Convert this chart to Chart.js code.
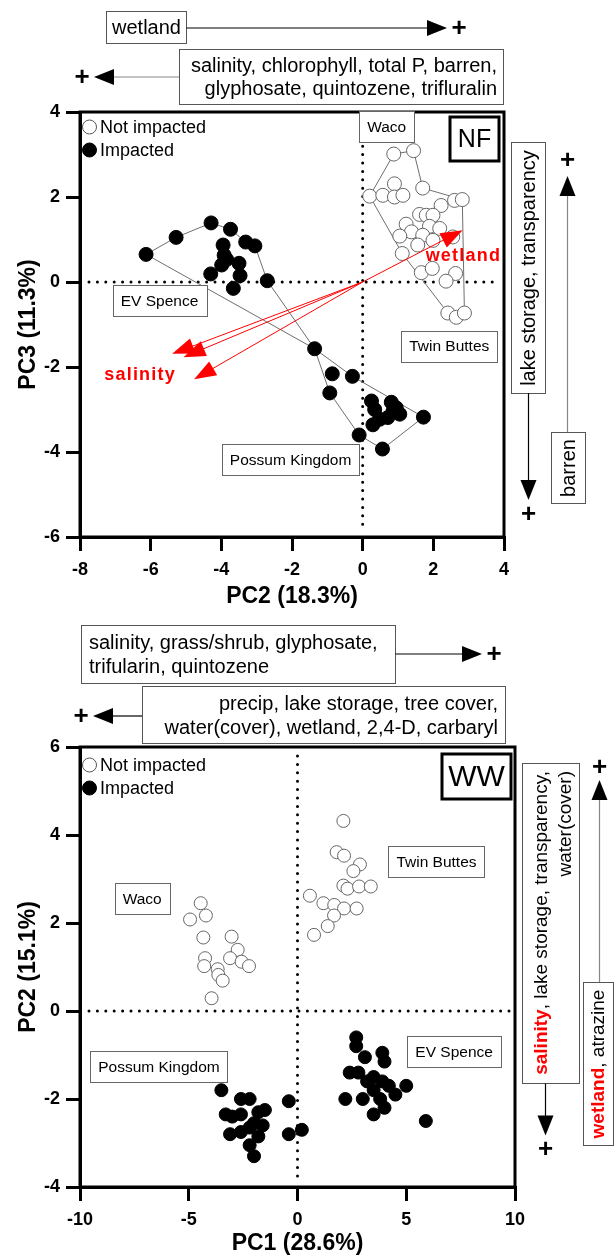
<!DOCTYPE html>
<html lang="en">
<head>
<meta charset="UTF-8">
<title>PCA - NF / WW</title>
<style>
  body { margin: 0; background: #fff; }
  .wrap { position: relative; width: 615px; height: 1258px; }
  canvas { position: absolute; left: 0; }
  #nf { top: 0; }
  #ww { top: 615px; }
</style>
</head>
<body>
<div class="wrap">
  <canvas id="nf" width="615" height="615"></canvas>
  <canvas id="ww" width="615" height="643"></canvas>
</div>
<script src="https://cdn.jsdelivr.net/npm/chart.js"></script>
<script>
// ---- NF panel: PC2 (x) vs PC3 (y)
const nfNotImpacted = [
  [0.88,3.01],[1.44,3.09],[0.20,2.02],[0.57,2.04],[0.90,2.31],[0.90,2.00],[1.14,2.04],[1.70,2.21],
  [2.60,1.92],[2.82,1.94],[2.22,1.80],[1.61,1.59],[1.80,1.57],[1.99,1.57],[1.23,1.36],[1.89,1.31],
  [1.38,1.18],[1.70,1.10],[2.18,1.26],[1.05,1.08],[1.56,0.87],[1.99,0.98],[2.55,1.06],[1.12,0.67],
  [1.66,0.22],[1.97,0.32],[2.63,0.20],[2.36,0.02],[2.41,-0.73],[2.65,-0.83],[2.88,-0.73]
];
const nfImpacted = [
  [-6.13,0.65],[-5.28,1.05],[-4.29,1.39],[-3.74,1.24],[-3.31,0.94],[-3.05,0.85],[-3.95,0.87],[-3.92,0.63],
  [-3.85,0.53],[-3.99,0.40],[-3.50,0.44],[-4.30,0.19],[-3.47,0.15],[-2.70,0.03],[-3.66,-0.15],[-1.36,-1.57],
  [-0.86,-2.16],[-0.29,-2.22],[-0.93,-2.61],[-0.10,-3.60],[0.56,-3.93],[1.72,-3.18],[0.25,-2.80],[0.34,-3.00],
  [0.81,-2.83],[0.95,-2.96],[1.05,-3.11],[0.71,-3.19],[0.48,-3.23],[0.29,-3.36],[0.86,-3.04]
];
// hull outlines, as indexes into the point lists
const nfHullNotImpacted = [0,1,7,9,30,29,28,23,2,0];
const nfHullEVSpence = [0,1,2,3,4,5,13,15,0];
const nfHullPossum = [15,17,21,20,19,18,15];
// loading vectors (wetland, salinity x3)
const nfLoadX = [2.83,-5.39,-5.07,-4.77];
const nfLoadY = [1.22,-1.69,-1.77,-2.29];

// ---- WW panel: PC1 (x) vs PC2 (y)
const wwNotImpacted = [
  [2.11,4.32],[1.80,3.61],[2.14,3.53],[2.87,3.33],[2.57,3.18],[2.11,2.85],[2.30,2.78],[2.83,2.83],[3.37,2.83],
  [0.57,2.62],[1.19,2.45],[1.69,2.41],[2.14,2.33],[2.72,2.33],[1.68,2.17],[1.39,1.93],[0.76,1.73],
  [-4.45,2.45],[-4.94,2.08],[-4.21,2.17],[-4.33,1.67],[-3.03,1.69],[-2.75,1.39],[-4.25,1.20],[-3.10,1.20],
  [-2.57,1.12],[-2.23,1.02],[-4.29,1.02],[-3.67,0.95],[-3.64,0.82],[-3.44,0.69],[-3.95,0.29]
];
const wwImpacted = [
  [2.7,-0.6],[2.7,-0.8],[3.1,-1.05],[3.9,-0.95],[4.0,-1.15],[2.4,-1.4],[2.8,-1.4],[3.5,-1.5],[3.2,-1.6],
  [3.9,-1.6],[3.5,-1.8],[4.2,-1.7],[4.5,-1.9],[2.2,-2.0],[3.0,-2.0],[3.8,-2.0],[4.0,-2.2],[3.5,-2.35],
  [5.0,-1.7],[5.9,-2.5],
  [-3.5,-1.8],[-3.3,-2.35],[-3.0,-2.4],[-2.6,-2.0],[-2.2,-2.0],[-2.6,-2.35],[-1.8,-2.3],[-1.5,-2.25],
  [-0.4,-2.05],[-3.1,-2.8],[-2.6,-2.75],[-2.2,-2.65],[-2.0,-2.55],[-1.6,-2.6],[-1.8,-2.85],[-2.2,-3.05],
  [-2.0,-3.3],[-0.4,-2.8],[0.2,-2.7]
];

const FONT = '"Liberation Sans", Arial, Helvetica, sans-serif';

const xy = pts => pts.map(p => ({x: p[0], y: p[1]}));
const hull = (pts, idx) => idx.map(i => ({x: pts[i][0], y: pts[i][1]}));

// ---- drawing helpers
function rectBox(ctx, x, y, w, h, lw, color) {
  ctx.save();
  ctx.fillStyle = '#fff';
  ctx.strokeStyle = color || '#555';
  ctx.lineWidth = lw || 1;
  ctx.fillRect(x, y, w, h);
  ctx.strokeRect(x, y, w, h);
  ctx.restore();
}
function seg(ctx, x1, y1, x2, y2, color, lw) {
  ctx.save();
  ctx.strokeStyle = color; ctx.lineWidth = lw || 1.2;
  ctx.beginPath(); ctx.moveTo(x1, y1); ctx.lineTo(x2, y2); ctx.stroke();
  ctx.restore();
}
function head(ctx, x, y, ang, color, len, half) {
  ctx.save();
  ctx.fillStyle = color || '#000';
  ctx.translate(x, y); ctx.rotate(ang);
  ctx.beginPath();
  ctx.moveTo(0, 0); ctx.lineTo(-(len || 20), -(half || 8)); ctx.lineTo(-(len || 20), half || 8);
  ctx.closePath(); ctx.fill();
  ctx.restore();
}
function plus(ctx, x, y) {
  ctx.save();
  ctx.fillStyle = '#000';
  ctx.font = 'bold 26px ' + FONT;
  ctx.textAlign = 'center'; ctx.textBaseline = 'middle';
  ctx.fillText('+', x, y);
  ctx.restore();
}
// parts: [{t, b, c}] drawn in a row; align left/right/center around x
function runs(ctx, parts, x, y, size, align) {
  const fonts = parts.map(p => (p.b ? 'bold ' : '') + size + 'px ' + FONT);
  let w = 0;
  const ws = parts.map((p, i) => { ctx.font = fonts[i]; const m = ctx.measureText(p.t).width; w += m; return m; });
  let cx = align === 'right' ? x - w : align === 'center' ? x - w / 2 : x;
  ctx.save();
  ctx.textAlign = 'left'; ctx.textBaseline = 'middle';
  parts.forEach((p, i) => {
    ctx.font = fonts[i]; ctx.fillStyle = p.c || '#000';
    ctx.fillText(p.t, cx, y); cx += ws[i];
  });
  ctx.restore();
  return w;
}
function measureRuns(ctx, parts, size) {
  let w = 0;
  parts.forEach(p => { ctx.font = (p.b ? 'bold ' : '') + size + 'px ' + FONT; w += ctx.measureText(p.t).width; });
  return w;
}
// rotated text (reads bottom to top)
function vRuns(ctx, parts, x, y, size, align) {
  ctx.save();
  ctx.translate(x, y); ctx.rotate(-Math.PI / 2);
  runs(ctx, parts, 0, 0, size, align);
  ctx.restore();
}

// ---- plugin: zero lines, loadings, frame, legend, labels, outside notes
function decor(spec) {
  return {
    id: 'decor',
    beforeDatasetsDraw(chart) {
      const {ctx, chartArea: a, scales: {x, y}} = chart;
      const x0 = x.getPixelForValue(0), y0 = y.getPixelForValue(0);
      ctx.save();
      ctx.strokeStyle = '#000'; ctx.lineWidth = 3; ctx.lineCap = 'round';
      ctx.setLineDash([0, 8.4]);
      ctx.beginPath();
      ctx.moveTo(x0, a.top + 9); ctx.lineTo(x0, a.bottom - 6);
      ctx.moveTo(a.left + 9, y0); ctx.lineTo(a.right - 6, y0);
      ctx.stroke();
      ctx.restore();
    },
    afterDatasetsDraw(chart) {
      if (!spec.loadX) return;
      const {ctx, scales: {x, y}} = chart;
      const ox = x.getPixelForValue(0), oy = y.getPixelForValue(0);
      spec.loadX.forEach((lx, i) => {
        const tx = x.getPixelForValue(lx), ty = y.getPixelForValue(spec.loadY[i]);
        const ang = Math.atan2(ty - oy, tx - ox);
        const bx = tx - Math.cos(ang) * 18, by = ty - Math.sin(ang) * 18;
        seg(ctx, ox, oy, bx, by, '#f00', 1);
        head(ctx, tx, ty, ang, '#f00', 22, 8);
      });
      ctx.save();
      ctx.fillStyle = '#f00';
      ctx.font = 'bold 18px ' + FONT;
      ctx.letterSpacing = '1.2px';
      ctx.textAlign = 'center'; ctx.textBaseline = 'middle';
      spec.loadLabels.forEach(l => ctx.fillText(l.t, x.getPixelForValue(l.x), y.getPixelForValue(l.y)));
      ctx.restore();
    },
    afterDraw(chart) {
      const {ctx, chartArea: a, scales: {x, y}} = chart;
      // frame
      ctx.save();
      ctx.strokeStyle = '#000'; ctx.lineWidth = 3;
      ctx.strokeRect(a.left, a.top, a.width, a.height);
      ctx.restore();
      // legend
      const lg = spec.legend;
      [['Not impacted', '#fff', lg.dy1], ['Impacted', '#000', lg.dy2]].forEach(([t, fill, dy]) => {
        ctx.save();
        ctx.beginPath();
        ctx.arc(a.left + 9.5, a.top + dy, 7, 0, Math.PI * 2);
        ctx.fillStyle = fill; ctx.fill();
        ctx.strokeStyle = fill === '#fff' ? '#555' : '#000'; ctx.lineWidth = 1; ctx.stroke();
        ctx.fillStyle = '#000'; ctx.font = '18px ' + FONT;
        ctx.textAlign = 'left'; ctx.textBaseline = 'middle';
        ctx.fillText(t, a.left + 20, a.top + dy + 1);
        ctx.restore();
      });
      // lake labels
      spec.lakes.forEach(l => {
        ctx.font = '15.5px ' + FONT;
        const w = ctx.measureText(l.t).width + 16, h = 31;
        const cx = x.getPixelForValue(l.x), cy = y.getPixelForValue(l.y);
        rectBox(ctx, Math.round(cx - w / 2) + 0.5, Math.round(cy - h / 2) + 0.5, Math.round(w), h, 1, '#666');
        runs(ctx, [{t: l.t}], cx, cy + 1, 15.5, 'center');
      });
      // panel tag
      const p = spec.panel;
      rectBox(ctx, a.right - p.dx - p.w, a.top + p.dy, p.w, p.h, 3, '#000');
      runs(ctx, [{t: p.t}], a.right - p.dx - p.w / 2, a.top + p.dy + p.h / 2 + 1, p.size, 'center');
      // notes outside the plot
      spec.outside(ctx);
    }
  };
}

function axes(o) {
  const tickFont = {family: FONT, size: 18, weight: 'bold'};
  const titleFont = {family: FONT, size: 23, weight: 'bold'};
  return {
    x: {
      type: 'linear', min: o.xmin, max: o.xmax,
      ticks: {stepSize: o.xstep, font: tickFont, color: '#000', padding: 8, maxRotation: 0, autoSkip: false},
      grid: {drawOnChartArea: false, tickLength: 14, color: '#000', lineWidth: 3},
      border: {color: '#000', width: 3},
      title: {display: true, text: o.xtitle, font: titleFont, color: '#000', padding: {top: 0, bottom: o.xtpad}},
      afterFit(s) { s.height = o.xh; }
    },
    y: {
      type: 'linear', min: o.ymin, max: o.ymax,
      ticks: {stepSize: o.ystep, font: tickFont, color: '#000', padding: 6},
      grid: {drawOnChartArea: false, tickLength: 14, color: '#000', lineWidth: 3},
      border: {color: '#000', width: 3},
      title: {display: true, text: o.ytitle, font: titleFont, color: '#000', padding: {top: 15, bottom: 0}},
      afterFit(s) { s.width = 80; }
    }
  };
}

const common = {
  responsive: false, animation: false, devicePixelRatio: 1, events: [],
  plugins: {legend: {display: false}, tooltip: {enabled: false}}
};

// ---- NF chart
function nfOutside(ctx) {
  rectBox(ctx, 106.5, 11.5, 80, 32);
  runs(ctx, [{t: 'wetland'}], 146.5, 28, 20, 'center');
  seg(ctx, 186.5, 28, 430, 28, '#000');
  head(ctx, 447, 28, 0);
  plus(ctx, 459, 29);

  rectBox(ctx, 179.5, 49.5, 324, 55);
  runs(ctx, [{t: 'salinity, chlorophyll, total P, barren,'}], 497, 66, 20, 'right');
  runs(ctx, [{t: 'glyphosate, quintozene, trifluralin'}], 497, 89, 20, 'right');
  seg(ctx, 179, 77, 112, 77, '#888');
  head(ctx, 94, 77, Math.PI);
  plus(ctx, 82, 78);

  rectBox(ctx, 511.5, 142.5, 34, 251);
  vRuns(ctx, [{t: 'lake storage, transparency'}], 529, 268, 20, 'center');
  seg(ctx, 528.5, 393, 528.5, 482, '#000');
  head(ctx, 528.5, 500, Math.PI / 2);
  plus(ctx, 528.5, 515);

  rectBox(ctx, 551.5, 432.5, 34, 71);
  vRuns(ctx, [{t: 'barren'}], 569, 468, 20, 'center');
  seg(ctx, 567.5, 432, 567.5, 194, '#888');
  head(ctx, 567.5, 176, -Math.PI / 2);
  plus(ctx, 567.5, 161);
}

new Chart(document.getElementById('nf'), {
  type: 'scatter',
  data: {
    datasets: [
      {data: xy(nfNotImpacted), pointRadius: 7, pointBackgroundColor: '#fff', pointBorderColor: '#666', pointBorderWidth: 1, order: 1},
      {data: xy(nfImpacted), pointRadius: 7, pointBackgroundColor: '#000', pointBorderColor: '#000', pointBorderWidth: 1, order: 1},
      {data: hull(nfNotImpacted, nfHullNotImpacted), showLine: true, pointRadius: 0, borderColor: '#6e6e6e', borderWidth: 1, order: 3},
      {data: hull(nfImpacted, nfHullEVSpence), showLine: true, pointRadius: 0, borderColor: '#6e6e6e', borderWidth: 1, order: 3},
      {data: hull(nfImpacted, nfHullPossum), showLine: true, pointRadius: 0, borderColor: '#6e6e6e', borderWidth: 1, order: 3}
    ]
  },
  options: Object.assign({}, common, {
    layout: {padding: {top: 112, right: 111, left: 0, bottom: 0}},
    scales: axes({xmin: -8, xmax: 4, xstep: 2, ymin: -6, ymax: 4, ystep: 2,
      xtitle: 'PC2 (18.3%)', ytitle: 'PC3 (11.3%)', xh: 78, xtpad: 5})
  }),
  plugins: [decor({
    loadX: nfLoadX, loadY: nfLoadY,
    loadLabels: [{t: 'wetland', x: 2.85, y: 0.62}, {t: 'salinity', x: -6.3, y: -2.2}],
    legend: {dy1: 15, dy2: 38},
    lakes: [
      {t: 'Waco', x: 0.68, y: 3.65},
      {t: 'EV Spence', x: -5.75, y: -0.44},
      {t: 'Twin Buttes', x: 2.45, y: -1.51},
      {t: 'Possum Kingdom', x: -2.04, y: -4.18}
    ],
    panel: {t: 'NF', dx: 5, dy: 5, w: 49, h: 44, size: 25},
    outside: nfOutside
  })]
});

// ---- WW chart
function wwOutside(ctx) {
  rectBox(ctx, 81.5, 10.5, 314, 58);
  runs(ctx, [{t: 'salinity, grass/shrub, glyphosate,'}], 89, 28, 20, 'left');
  runs(ctx, [{t: 'trifularin, quintozene'}], 89, 52, 20, 'left');
  seg(ctx, 395.5, 39, 466, 39, '#000');
  head(ctx, 482, 39, 0);
  plus(ctx, 494, 40);

  rectBox(ctx, 142.5, 71.5, 363, 57);
  runs(ctx, [{t: 'precip, lake storage, tree cover,'}], 498, 89, 20, 'right');
  runs(ctx, [{t: 'water(cover), wetland, 2,4-D, carbaryl'}], 498, 113, 20, 'right');
  seg(ctx, 142, 101, 110, 101, '#000');
  head(ctx, 93, 101, Math.PI);
  plus(ctx, 81, 102);

  const l1 = [{t: 'salinity', b: true, c: '#f00'}, {t: ', lake storage, transparency,'}];
  const l2 = [{t: 'water(cover)'}];
  const h1 = Math.round(Math.max(measureRuns(ctx, l1, 19), measureRuns(ctx, l2, 19)) + 16);
  rectBox(ctx, 522.5, 148.5, 57, h1);
  vRuns(ctx, l1, 542, 156, 19, 'right');
  vRuns(ctx, l2, 566, 156, 19, 'right');
  const b1 = 148.5 + h1;
  seg(ctx, 545.5, b1, 545.5, b1 + 34, '#000');
  head(ctx, 545.5, b1 + 52, Math.PI / 2);
  plus(ctx, 545.5, b1 + 66);

  const l3 = [{t: 'wetland', b: true, c: '#f00'}, {t: ', atrazine'}];
  const h3 = Math.round(measureRuns(ctx, l3, 19) + 14);
  rectBox(ctx, 583.5, 367.5, 30, h3);
  vRuns(ctx, l3, 599, 367.5 + h3 / 2, 19, 'center');
  seg(ctx, 599.5, 367, 599.5, 183, '#888');
  head(ctx, 599.5, 165, -Math.PI / 2);
  plus(ctx, 599.5, 153);
}

new Chart(document.getElementById('ww'), {
  type: 'scatter',
  data: {
    datasets: [
      {data: xy(wwNotImpacted), pointRadius: 6.5, pointBackgroundColor: '#fff', pointBorderColor: '#666', pointBorderWidth: 1},
      {data: xy(wwImpacted), pointRadius: 6.5, pointBackgroundColor: '#000', pointBorderColor: '#000', pointBorderWidth: 1}
    ]
  },
  options: Object.assign({}, common, {
    layout: {padding: {top: 132, right: 100, left: 0, bottom: 0}},
    scales: axes({xmin: -10, xmax: 10, xstep: 5, ymin: -4, ymax: 6, ystep: 2,
      xtitle: 'PC1 (28.6%)', ytitle: 'PC2 (15.1%)', xh: 71, xtpad: 1})
  }),
  plugins: [decor({
    legend: {dy1: 18, dy2: 41},
    lakes: [
      {t: 'Twin Buttes', x: 6.39, y: 3.39},
      {t: 'Waco', x: -7.14, y: 2.55},
      {t: 'EV Spence', x: 7.2, y: -0.92},
      {t: 'Possum Kingdom', x: -6.37, y: -1.27}
    ],
    panel: {t: 'WW', dx: 4, dy: 7, w: 69, h: 45, size: 30},
    outside: wwOutside
  })]
});
</script>
</body>
</html>
